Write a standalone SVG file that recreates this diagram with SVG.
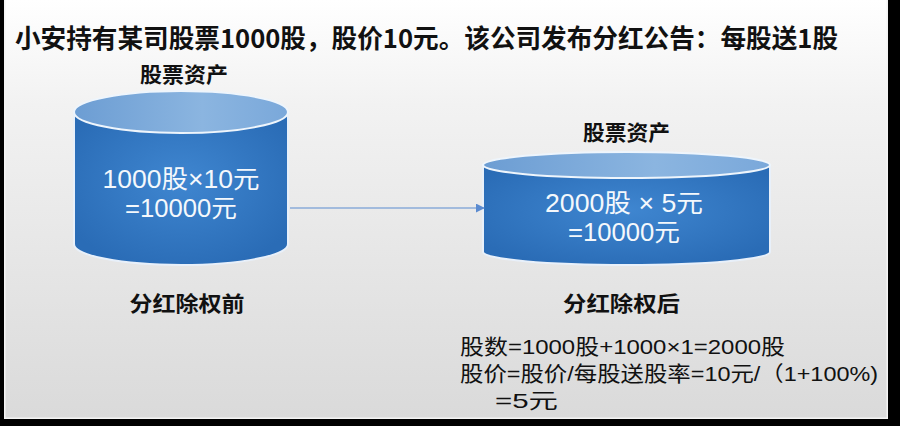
<svg xmlns="http://www.w3.org/2000/svg" width="900" height="426" viewBox="0 0 900 426">
<defs>
<linearGradient id="bg" x1="0" y1="0" x2="0" y2="1">
<stop offset="0" stop-color="#ffffff"/>
<stop offset="0.25" stop-color="#f2f2f2"/>
<stop offset="1" stop-color="#dadada"/>
</linearGradient>
<radialGradient id="side" cx="0.5" cy="0.45" r="0.6">
<stop offset="0" stop-color="#3f86d0"/>
<stop offset="1" stop-color="#2a6cb6"/>
</radialGradient>
<linearGradient id="top" x1="0" y1="0" x2="1" y2="0">
<stop offset="0" stop-color="#6c9dd3"/>
<stop offset="0.6" stop-color="#8bb5e0"/>
<stop offset="1" stop-color="#7aa8da"/>
</linearGradient>
<marker id="arr" viewBox="0 0 10 10" refX="9" refY="5" markerWidth="9" markerHeight="9" markerUnits="userSpaceOnUse" orient="auto">
<path d="M0,0 L10,5 L0,10 Z" fill="#5b8bd0"/>
</marker>
<style>
.cj{font-family:"Noto Sans CJK SC","Liberation Sans",sans-serif;}
.lt{font-family:"Liberation Sans","Noto Sans CJK SC",sans-serif;}
.b{font-weight:700;fill:#111;}
.w{fill:#f4f8fc;font-size:25px;}
.n{fill:#111;font-size:21px;}
.side{fill:url(#side);stroke:#e8f0fa;stroke-width:2;}
.top{fill:url(#top);stroke:#eef5fc;stroke-width:2;}
</style>
</defs>
<rect x="0" y="0" width="900" height="426" fill="#000"/>
<rect x="4" y="-2" width="884" height="421" fill="#f4f4f4"/>
<rect x="5.5" y="0" width="881" height="417.5" fill="url(#bg)"/>
<text class="cj b" x="15" y="48" font-size="26" textLength="823" lengthAdjust="spacingAndGlyphs">小安持有某司股票1000股，股价10元。该公司发布分红公告：每股送1股</text>
<g id="cyl-before">
<text class="cj b" x="184" y="82" font-size="21" text-anchor="middle" textLength="88" lengthAdjust="spacingAndGlyphs">股票资产</text>
<path class="side" d="M74,112 L74,244 A107,21 0 0 0 288,244 L288,112 Z"/>
<ellipse class="top" cx="181" cy="112" rx="107" ry="21"/>
<text class="lt w" x="181" y="188" text-anchor="middle" textLength="157" lengthAdjust="spacingAndGlyphs">1000股×10元</text>
<text class="lt w" x="181" y="217" text-anchor="middle" textLength="112" lengthAdjust="spacingAndGlyphs">=10000元</text>
<text class="cj b" x="187" y="311" font-size="21" text-anchor="middle" textLength="115" lengthAdjust="spacingAndGlyphs">分红除权前</text>
</g>
<g id="cyl-after">
<text class="cj b" x="626.5" y="140" font-size="21" text-anchor="middle" textLength="87" lengthAdjust="spacingAndGlyphs">股票资产</text>
<path class="side" d="M483,165 L483,252 A143.5,13 0 0 0 770,252 L770,165 Z"/>
<ellipse class="top" cx="626.5" cy="165" rx="143.5" ry="13"/>
<text class="lt w" x="624" y="212" text-anchor="middle" textLength="158" lengthAdjust="spacingAndGlyphs">2000股 × 5元</text>
<text class="lt w" x="624" y="241" text-anchor="middle" textLength="112" lengthAdjust="spacingAndGlyphs">=10000元</text>
<text class="cj b" x="621.5" y="311" font-size="21" text-anchor="middle" textLength="117" lengthAdjust="spacingAndGlyphs">分红除权后</text>
</g>
<g id="connectors">
<line x1="290" y1="208" x2="484" y2="208" stroke="#5b8bd0" stroke-width="1.2" marker-end="url(#arr)"/>
</g>
<g id="notes">
<text class="lt n" x="460" y="354" textLength="325" lengthAdjust="spacingAndGlyphs">股数=1000股+1000×1=2000股</text>
<text class="lt n" x="460" y="381" textLength="418" lengthAdjust="spacingAndGlyphs">股价=股价/每股送股率=10元/（1+100%)</text>
<text class="lt n" x="495" y="408" textLength="63" lengthAdjust="spacingAndGlyphs">=5元</text>
</g>
</svg>
